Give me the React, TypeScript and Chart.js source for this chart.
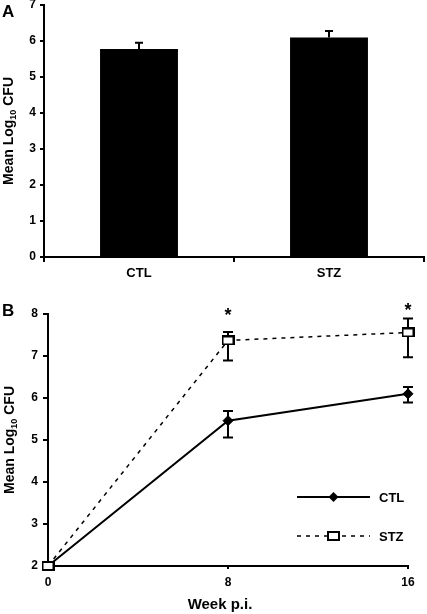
import React, { useEffect, useRef } from "react";
import { Chart, registerables } from "chart.js";

Chart.register(...registerables);

// ---------- Data: panel A ----------
const groups = ["CTL", "STZ"];
const barMeans = [5.78, 6.1];
const barErrUpper = [5.95, 6.28];
const yTicksA = { min: 0, max: 7, step: 1 };

// ---------- Data: panel B ----------
const weeks = [0, 8, 16];
const ctlMeans = [2, 5.46, 6.1];
const ctlLow: (number | null)[] = [null, 5.06, 5.89];
const ctlHigh: (number | null)[] = [null, 5.69, 6.26];
const stzMeans = [2, 7.37, 7.56];
const stzLow: (number | null)[] = [null, 6.89, 6.97];
const stzHigh: (number | null)[] = [null, 7.57, 7.89];
const significance = ["", "*", "*"];
const significanceLevel: (number | null)[] = [null, 8.08, 8.2];
const yTicksB = { min: 2, max: 8, step: 1 };
const xTicksB = { min: 0, max: 16, step: 8 };

const FAMILY = "'Liberation Sans', Arial, Helvetica, sans-serif";

function makeSquare(): HTMLCanvasElement {
  const c = document.createElement("canvas");
  c.width = 13;
  c.height = 10;
  const g = c.getContext("2d")!;
  g.fillStyle = "#fff";
  g.fillRect(0, 0, 13, 10);
  g.strokeStyle = "#000";
  g.lineWidth = 2;
  g.strokeRect(1, 1, 11, 8);
  return c;
}

function yTitlePlugin(id: string, centerX: number) {
  return {
    id,
    afterDraw(chart: any) {
      const { ctx, chartArea } = chart;
      const cy = (chartArea.top + chartArea.bottom) / 2;
      ctx.save();
      ctx.translate(centerX, cy);
      ctx.rotate(-Math.PI / 2);
      ctx.fillStyle = "#000";
      ctx.textBaseline = "alphabetic";
      ctx.textAlign = "left";
      const big = `bold 14px ${FAMILY}`;
      const small = `bold 9px ${FAMILY}`;
      const p1 = "Mean Log";
      const p2 = "10";
      const p3 = " CFU";
      ctx.font = big;
      const w1 = ctx.measureText(p1).width;
      const w3 = ctx.measureText(p3).width;
      ctx.font = small;
      const w2 = ctx.measureText(p2).width;
      const total = w1 + w2 + w3;
      let x = -total / 2;
      const base = 5;
      ctx.font = big;
      ctx.fillText(p1, x, base);
      x += w1;
      ctx.font = small;
      ctx.fillText(p2, x, base + 3);
      x += w2;
      ctx.font = big;
      ctx.fillText(p3, x, base);
      ctx.restore();
    },
  };
}

function panelLabelPlugin(id: string, text: string, x: number, baseline: number) {
  return {
    id,
    afterDraw(chart: any) {
      const { ctx } = chart;
      ctx.save();
      ctx.fillStyle = "#000";
      ctx.font = `bold 17px ${FAMILY}`;
      ctx.textAlign = "left";
      ctx.textBaseline = "alphabetic";
      ctx.fillText(text, x, baseline);
      ctx.restore();
    },
  };
}

const axisFont = (size: number) => ({ family: FAMILY, size, weight: "bold" as const });

export default function App() {
  const refA = useRef<HTMLCanvasElement>(null);
  const refB = useRef<HTMLCanvasElement>(null);

  useEffect(() => {
    // ---------- Panel A ----------
    const errA = {
      id: "errA",
      afterDatasetsDraw(chart: any) {
        const { ctx } = chart;
        const xs = chart.scales.x;
        const ys = chart.scales.y;
        ctx.save();
        ctx.strokeStyle = "#000";
        ctx.lineWidth = 2;
        barMeans.forEach((m, i) => {
          const x = xs.getPixelForValue(i);
          const y0 = ys.getPixelForValue(m);
          const y1 = ys.getPixelForValue(barErrUpper[i]);
          ctx.beginPath();
          ctx.moveTo(x, y0);
          ctx.lineTo(x, y1);
          ctx.moveTo(x - 4, y1);
          ctx.lineTo(x + 4, y1);
          ctx.stroke();
        });
        ctx.restore();
      },
    };

    const chartA = new Chart(refA.current!, {
      type: "bar",
      data: {
        labels: groups,
        datasets: [
          {
            data: barMeans,
            backgroundColor: "#000",
            borderWidth: 0,
            barPercentage: 0.41,
            categoryPercentage: 1,
          },
        ],
      },
      options: {
        animation: false,
        responsive: false,
        layout: { padding: { top: 5, right: 3, left: 0, bottom: 0 } },
        plugins: { legend: { display: false }, tooltip: { enabled: false } },
        scales: {
          x: {
            grid: { display: true, drawOnChartArea: false, tickLength: 5, color: "#000", lineWidth: 2, offset: true },
            border: { color: "#000", width: 2 },
            ticks: { color: "#000", font: axisFont(13), padding: 4 },
            afterFit(s: any) {
              s.height = 43;
              s.paddingLeft = 0;
              s.paddingRight = 0;
            },
          },
          y: {
            min: yTicksA.min,
            max: yTicksA.max,
            ticks: { stepSize: yTicksA.step, color: "#000", font: axisFont(12), padding: 4 },
            grid: { drawOnChartArea: false, tickLength: 4, color: "#000", lineWidth: 2 },
            border: { color: "#000", width: 2 },
            afterFit(s: any) {
              s.width = 44;
              s.paddingTop = 0;
              s.paddingBottom = 0;
            },
          },
        },
      } as any,
      plugins: [errA, yTitlePlugin("ytA", 8), panelLabelPlugin("lblA", "A", 2, 17)],
    });

    // ---------- Panel B ----------
    const square = makeSquare();

    const errB = {
      id: "errB",
      beforeDatasetsDraw(chart: any) {
        const { ctx } = chart;
        const xs = chart.scales.x;
        const ys = chart.scales.y;
        ctx.save();
        ctx.strokeStyle = "#000";
        ctx.lineWidth = 2;
        const draw = (lo: (number | null)[], hi: (number | null)[]) => {
          weeks.forEach((w, i) => {
            const l = lo[i];
            const h = hi[i];
            if (l == null || h == null) return;
            const x = xs.getPixelForValue(w);
            const yl = ys.getPixelForValue(l);
            const yh = ys.getPixelForValue(h);
            ctx.beginPath();
            ctx.moveTo(x, yl);
            ctx.lineTo(x, yh);
            ctx.moveTo(x - 5, yl);
            ctx.lineTo(x + 5, yl);
            ctx.moveTo(x - 5, yh);
            ctx.lineTo(x + 5, yh);
            ctx.stroke();
          });
        };
        draw(ctlLow, ctlHigh);
        draw(stzLow, stzHigh);
        ctx.restore();
      },
      afterDraw(chart: any) {
        const { ctx } = chart;
        const xs = chart.scales.x;
        const ys = chart.scales.y;
        ctx.save();
        ctx.fillStyle = "#000";
        ctx.font = `bold 18px ${FAMILY}`;
        ctx.textAlign = "center";
        ctx.textBaseline = "alphabetic";
        weeks.forEach((w, i) => {
          const lv = significanceLevel[i];
          if (!significance[i] || lv == null) return;
          const x = xs.getPixelForValue(w);
          const cy = ys.getPixelForValue(lv);
          ctx.fillText(significance[i], x, cy + 10);
        });
        ctx.restore();
      },
    };

    const legendB = {
      id: "legendB",
      afterDraw(chart: any) {
        const { ctx, chartArea } = chart;
        const x0 = chartArea.right - 111;
        const x1 = chartArea.right - 38;
        const xm = (x0 + x1) / 2;
        const tx = chartArea.right - 29;
        const rows = [
          { label: "CTL", y: chartArea.bottom - 69, dash: [] as number[], width: 2, marker: "diamond" },
          { label: "STZ", y: chartArea.bottom - 30, dash: [4, 5], width: 1.5, marker: "square" },
        ];
        ctx.save();
        rows.forEach((r) => {
          ctx.strokeStyle = "#000";
          ctx.lineWidth = r.width;
          ctx.setLineDash(r.dash);
          ctx.beginPath();
          ctx.moveTo(x0, r.y);
          ctx.lineTo(x1, r.y);
          ctx.stroke();
          ctx.setLineDash([]);
          if (r.marker === "diamond") {
            ctx.fillStyle = "#000";
            ctx.beginPath();
            ctx.moveTo(xm - 5, r.y);
            ctx.lineTo(xm, r.y - 5);
            ctx.lineTo(xm + 5, r.y);
            ctx.lineTo(xm, r.y + 5);
            ctx.closePath();
            ctx.fill();
          } else {
            ctx.drawImage(square, Math.round(xm - 6.5), Math.round(r.y - 5));
          }
          ctx.fillStyle = "#000";
          ctx.font = `bold 13px ${FAMILY}`;
          ctx.textAlign = "left";
          ctx.textBaseline = "middle";
          ctx.fillText(r.label, tx, r.y + 1);
        });
        ctx.restore();
      },
    };

    const xTitleB = {
      id: "xTitleB",
      afterDraw(chart: any) {
        const { ctx, chartArea } = chart;
        ctx.save();
        ctx.fillStyle = "#000";
        ctx.font = `bold 15px ${FAMILY}`;
        ctx.textAlign = "center";
        ctx.textBaseline = "alphabetic";
        ctx.fillText("Week p.i.", (chartArea.left + chartArea.right) / 2 - 8, chartArea.bottom + 43);
        ctx.restore();
      },
    };

    const chartB = new Chart(refB.current!, {
      type: "line",
      data: {
        datasets: [
          {
            label: "STZ",
            data: weeks.map((w, i) => ({ x: w, y: stzMeans[i] })),
            borderColor: "#000",
            borderWidth: 1.5,
            borderDash: [4, 5],
            pointStyle: square,
            pointRadius: 6,
            fill: false,
            tension: 0,
            clip: false,
            order: 0,
          },
          {
            label: "CTL",
            data: weeks.map((w, i) => ({ x: w, y: ctlMeans[i] })),
            borderColor: "#000",
            borderWidth: 2,
            pointStyle: "rectRot",
            pointRadius: 5,
            pointBackgroundColor: "#000",
            pointBorderColor: "#000",
            pointBorderWidth: 1,
            fill: false,
            tension: 0,
            clip: false,
            order: 1,
          },
        ],
      },
      options: {
        animation: false,
        responsive: false,
        layout: { padding: { top: 14, right: 19, left: 0, bottom: 0 } },
        plugins: { legend: { display: false }, tooltip: { enabled: false } },
        scales: {
          x: {
            type: "linear",
            min: xTicksB.min,
            max: xTicksB.max,
            ticks: { stepSize: xTicksB.step, color: "#000", font: axisFont(12), padding: 6 },
            grid: { drawOnChartArea: false, tickLength: 3, color: "#000", lineWidth: 2 },
            border: { color: "#000", width: 2 },
            afterFit(s: any) {
              s.height = 48;
              s.paddingLeft = 0;
              s.paddingRight = 0;
            },
          },
          y: {
            min: yTicksB.min,
            max: yTicksB.max,
            ticks: { stepSize: yTicksB.step, color: "#000", font: axisFont(12), padding: 5 },
            grid: { drawOnChartArea: false, tickLength: 5, color: "#000", lineWidth: 2 },
            border: { color: "#000", width: 2 },
            afterFit(s: any) {
              s.width = 48;
              s.paddingTop = 0;
              s.paddingBottom = 0;
            },
          },
        },
      } as any,
      plugins: [errB, legendB, xTitleB, yTitlePlugin("ytB", 8.5), panelLabelPlugin("lblB", "B", 2, 16)],
    });

    return () => {
      chartA.destroy();
      chartB.destroy();
    };
  }, []);

  return (
    <div style={{ position: "absolute", left: 0, top: 0, width: 427, height: 614, background: "#fff" }}>
      <canvas ref={refA} width={427} height={300} style={{ position: "absolute", left: 0, top: 0, width: 427, height: 300 }} />
      <canvas ref={refB} width={427} height={314} style={{ position: "absolute", left: 0, top: 300, width: 427, height: 314 }} />
    </div>
  );
}
